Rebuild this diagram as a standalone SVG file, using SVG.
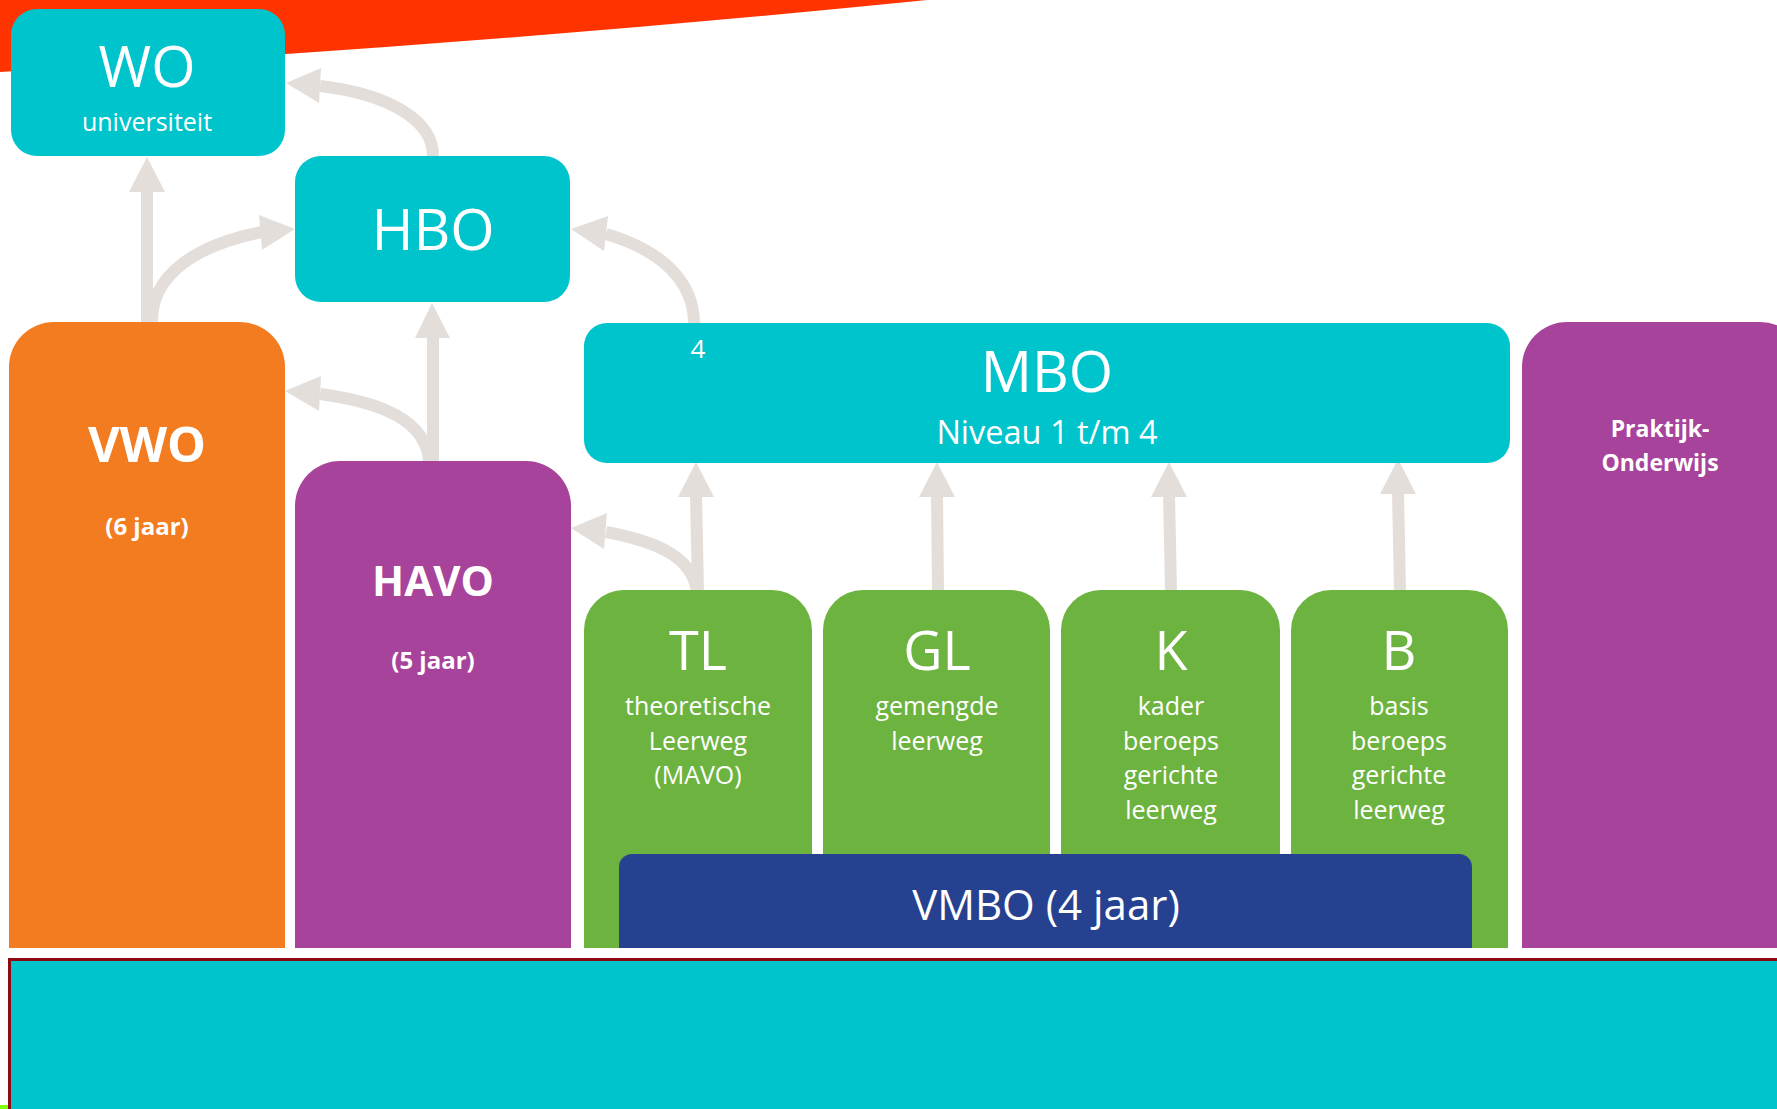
<svg xmlns="http://www.w3.org/2000/svg" width="1777" height="1109" viewBox="0 0 1777 1109">
  <style>
    .t { font-family: "Open Sans", "Noto Sans", "Liberation Sans", sans-serif; fill: #ffffff; text-anchor: middle; }
    .b { font-weight: bold; }
    .cyan { fill: #00C4CC; }
    .green { fill: #6DB33F; }
    .purple { fill: #A8439B; }
    .orange { fill: #F47C20; }
    .blue { fill: #25418F; }
    .shaft { fill: none; stroke: #E4DEDB; stroke-width: 12; }
    .head { fill: #E4DEDB; }
  </style>
  <rect x="0" y="0" width="1777" height="1109" fill="#ffffff"/>
  <!-- background decoration -->
  <path d="M0,0 L927,0 Q481,45 0,72 Z" fill="#FF3300"/>
  <rect x="9.5" y="959.5" width="1800" height="200" fill="#00C4CC" stroke="#8C0A14" stroke-width="3"/>
  <rect x="0" y="1105" width="8" height="4" fill="#80FF00"/>

  <g id="connectors">
    <!-- VWO -> WO -->
    <line class="shaft" x1="147" y1="322" x2="147" y2="190"/>
    <polygon class="head" points="147,157 129,192 165,192"/>
    <!-- VWO -> HBO -->
    <path class="shaft" d="M152,322 C151,275 196,245 262,232"/>
    <polygon class="head" points="295,229 259,215 262,250"/>
    <!-- HBO -> WO -->
    <path class="shaft" d="M433,157 C434,120 388,94 320,86"/>
    <polygon class="head" points="286,83 321,68 319,103"/>
    <!-- HAVO -> HBO -->
    <line class="shaft" x1="433" y1="462" x2="433" y2="336"/>
    <polygon class="head" points="432,303 415,338 450,338"/>
    <!-- HAVO -> VWO -->
    <path class="shaft" d="M429,462 C427,420 380,402 320,394"/>
    <polygon class="head" points="285,391 321,376 319,411"/>
    <!-- MBO -> HBO -->
    <path class="shaft" d="M694,324 C694,280 660,250 606,234"/>
    <polygon class="head" points="571,229 608,216 604,251"/>
    <!-- TL -> MBO -->
    <line class="shaft" x1="698" y1="591" x2="696" y2="495"/>
    <polygon class="head" points="696,462 678,497 714,497"/>
    <!-- TL -> HAVO -->
    <path class="shaft" d="M697,591 C692,558 660,542 606,532"/>
    <polygon class="head" points="571,528 607,513 604,549"/>
    <!-- GL -> MBO -->
    <line class="shaft" x1="938" y1="591" x2="937" y2="495"/>
    <polygon class="head" points="937,462 919,497 955,497"/>
    <!-- K -> MBO -->
    <line class="shaft" x1="1171" y1="591" x2="1169" y2="495"/>
    <polygon class="head" points="1169,462 1151,497 1187,497"/>
    <!-- B -> MBO -->
    <line class="shaft" x1="1400" y1="591" x2="1398" y2="492"/>
    <polygon class="head" points="1398,459 1380,494 1416,494"/>
  </g>

  <g id="wo">
    <rect class="cyan" x="11" y="9" width="274" height="147" rx="26"/>
    <text class="t" x="147" y="87" font-size="57">WO</text>
    <text class="t" x="147" y="131" font-size="25">universiteit</text>
  </g>
  <g id="hbo">
    <rect class="cyan" x="295" y="156" width="275" height="146" rx="26"/>
    <text class="t" x="433" y="250" font-size="57">HBO</text>
  </g>
  <g id="mbo">
    <rect class="cyan" x="584" y="323" width="926" height="140" rx="23"/>
    <text class="t" x="698" y="358" font-size="26">4</text>
    <text class="t" x="1047" y="392" font-size="57">MBO</text>
    <text class="t" x="1047" y="444" font-size="32.5">Niveau 1 t/m 4</text>
  </g>
  <g id="vwo">
    <path class="orange" d="M9,948 L9,367 A45,45 0 0 1 54,322 L240,322 A45,45 0 0 1 285,367 L285,948 Z"/>
    <text class="t b" x="147" y="462" font-size="49">VWO</text>
    <text class="t b" x="147" y="535" font-size="24">(6 jaar)</text>
  </g>
  <g id="havo">
    <path class="purple" d="M295,948 L295,506 A45,45 0 0 1 340,461 L526,461 A45,45 0 0 1 571,506 L571,948 Z"/>
    <text class="t b" x="433" y="596" font-size="42">HAVO</text>
    <text class="t b" x="433" y="669" font-size="24">(5 jaar)</text>
  </g>
  <g id="tl">
    <path class="green" d="M584,948 L584,630 A40,40 0 0 1 624,590 L772,590 A40,40 0 0 1 812,630 L812,948 Z"/>
    <text class="t" x="698" y="670" font-size="54">TL</text>
    <text class="t" x="698" y="715" font-size="25">theoretische</text>
    <text class="t" x="698" y="749.5" font-size="25">Leerweg</text>
    <text class="t" x="698" y="784" font-size="25">(MAVO)</text>
  </g>
  <g id="gl">
    <path class="green" d="M823,948 L823,630 A40,40 0 0 1 863,590 L1010,590 A40,40 0 0 1 1050,630 L1050,948 Z"/>
    <text class="t" x="937" y="670" font-size="54">GL</text>
    <text class="t" x="937" y="715" font-size="25">gemengde</text>
    <text class="t" x="937" y="749.5" font-size="25">leerweg</text>
  </g>
  <g id="k">
    <path class="green" d="M1061,948 L1061,630 A40,40 0 0 1 1101,590 L1240,590 A40,40 0 0 1 1280,630 L1280,948 Z"/>
    <text class="t" x="1171" y="670" font-size="54">K</text>
    <text class="t" x="1171" y="715" font-size="25">kader</text>
    <text class="t" x="1171" y="749.5" font-size="25">beroeps</text>
    <text class="t" x="1171" y="784" font-size="25">gerichte</text>
    <text class="t" x="1171" y="819" font-size="25">leerweg</text>
  </g>
  <g id="b">
    <path class="green" d="M1291,948 L1291,630 A40,40 0 0 1 1331,590 L1468,590 A40,40 0 0 1 1508,630 L1508,948 Z"/>
    <text class="t" x="1399" y="670" font-size="54">B</text>
    <text class="t" x="1399" y="715" font-size="25">basis</text>
    <text class="t" x="1399" y="749.5" font-size="25">beroeps</text>
    <text class="t" x="1399" y="784" font-size="25">gerichte</text>
    <text class="t" x="1399" y="819" font-size="25">leerweg</text>
  </g>
  <g id="vmbo">
    <path class="blue" d="M619,948 L619,867 A13,13 0 0 1 632,854 L1459,854 A13,13 0 0 1 1472,867 L1472,948 Z"/>
    <text class="t" x="1046" y="920" font-size="42">VMBO (4 jaar)</text>
  </g>
  <g id="praktijk">
    <path class="purple" d="M1522,948 L1522,367 A45,45 0 0 1 1567,322 L1760,322 A45,45 0 0 1 1805,367 L1805,948 Z"/>
    <text class="t b" x="1660" y="437" font-size="23">Praktijk-</text>
    <text class="t b" x="1660" y="471" font-size="23">Onderwijs</text>
  </g>
</svg>
